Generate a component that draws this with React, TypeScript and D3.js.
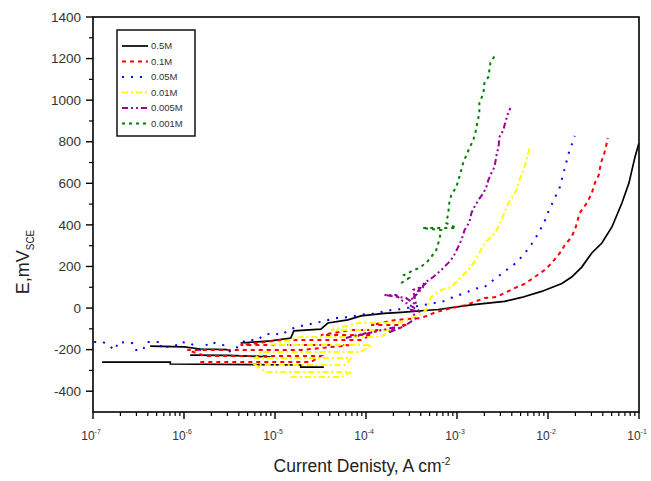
import React from 'react';
import * as d3 from 'd3';

type Pt = [number, number] | null;

// current density (A cm^-2), potential (mV vs SCE)
const xTickExponents = [-7, -6, -5, -4, -3, -2, -1];
const yTickValues = [-400, -200, 0, 200, 400, 600, 800, 1000, 1200, 1400];
const legendLabels = ['0.5M', '0.1M', '0.05M', '0.01M', '0.005M', '0.001M'];

const series05M: Pt[] = [
  [1.26e-7, -260], [7.07e-7, -260], [7.07e-7, -269], [1.92e-5, -274], [1.92e-5, -284], [3.44e-5, -284],
  null,
  [4.25e-7, -183], [1.0e-6, -187], [1.51e-6, -197], [3.0e-6, -200],
  null,
  [1.17e-6, -226], [3.0e-6, -228], [8.95e-6, -235],
  null,
  [4.18e-6, -168], [8.95e-6, -158],
  [1.49e-5, -144], [1.61e-5, -110], [3.19e-5, -101], [3.81e-5, -72], [6.32e-5, -57], [8.81e-5, -38],
  [1.58e-4, -26], [2.43e-4, -21], [6.22e-4, -7], [1.44e-3, 15], [3.33e-3, 32], [5.12e-3, 51],
  [8.51e-3, 80], [1.42e-2, 118], [1.82e-2, 149], [2.35e-2, 197], [3.03e-2, 265], [3.91e-2, 313],
  [5.04e-2, 390], [6.49e-2, 505], [7.75e-2, 601], [9.04e-2, 727], [1.0e-1, 794],
];

const series01M: Pt[] = [
  [1.51e-6, -260], [2.47e-5, -260], [3.19e-5, -231], [1.72e-6, -231], [1.09e-6, -202], [1.92e-5, -202],
  [6.83e-5, -178], [4.18e-6, -178], [1.15e-5, -154], [8.81e-5, -154], [1.14e-4, -130], [3.19e-5, -130],
  [6.83e-5, -106], [2.14e-4, -106], [2.76e-4, -81], [1.14e-4, -81], [2.14e-4, -57], [4.04e-4, -48],
  [5.92e-4, -19], [9.84e-4, 5], [1.27e-3, 15], [2.0e-3, 48], [2.72e-3, 53], [3.33e-3, 72],
  [4.29e-3, 96], [5.52e-3, 116], [7.13e-3, 149], [9.18e-3, 183], [1.10e-2, 217], [1.35e-2, 265],
  [1.53e-2, 303], [1.82e-2, 342], [2.02e-2, 390], [2.23e-2, 457], [2.67e-2, 505], [3.03e-2, 553],
  [3.27e-2, 601], [3.62e-2, 640], [3.81e-2, 698], [4.11e-2, 736], [4.33e-2, 775], [4.55e-2, 818],
];

const series005M: Pt[] = [
  [1.03e-7, -163], [1.29e-7, -163], [1.75e-7, -202], [1.89e-7, -163], [2.69e-7, -168], [2.90e-7, -202],
  [3.56e-7, -202], [3.84e-7, -163], [5.77e-7, -163], [5.48e-7, -192], [8.44e-7, -178], [9.12e-7, -163],
  [1.17e-6, -168], [1.51e-6, -202], [1.95e-6, -163], [2.71e-6, -178], [3.24e-6, -211], [3.87e-6, -187],
  [4.75e-6, -154], [6.44e-6, -154], [7.50e-6, -130], [9.66e-6, -120], [1.15e-5, -130], [1.49e-5, -101],
  [1.92e-5, -86], [2.81e-5, -72], [4.67e-5, -48], [5.30e-5, -48], [1.0e-4, -29], [1.14e-4, -29],
  [2.04e-4, -7], [2.43e-4, -5], [7.06e-4, 32], [9.10e-4, 53], [1.06e-3, 63], [1.63e-3, 94],
  [2.0e-3, 101], [2.27e-3, 120], [3.50e-3, 183], [4.18e-3, 207], [5.38e-3, 255], [6.61e-3, 308],
  [7.89e-3, 361], [8.51e-3, 390], [9.66e-3, 438], [1.02e-2, 472], [1.12e-2, 505], [1.35e-2, 582],
  [1.69e-2, 746], [1.97e-2, 828],
];

const series001M: Pt[] = [
  [1.49e-5, -332], [5.30e-5, -332], [6.83e-5, -308], [7.89e-6, -308], [6.12e-6, -274], [6.01e-5, -274],
  [6.83e-5, -240], [6.12e-6, -240], [6.95e-6, -211], [8.81e-5, -211], [1.14e-4, -178], [8.95e-6, -178],
  [1.92e-5, -139], [1.46e-4, -139], [1.89e-4, -106], [4.11e-5, -106], [8.16e-5, -72], [1.58e-4, -72],
  [2.43e-4, -67], [3.13e-4, -48],
  [3.84e-4, -33], [4.59e-4, -9], [4.83e-4, 24], [5.21e-4, 53], [6.71e-4, 87], [8.65e-4, 101],
  [1.03e-3, 135], [1.33e-3, 183], [1.55e-3, 222], [1.76e-3, 265], [2.0e-3, 313], [2.39e-3, 342],
  [2.72e-3, 375], [3.08e-3, 424], [3.33e-3, 462], [3.68e-3, 505], [4.07e-3, 534], [4.51e-3, 568],
  [4.86e-3, 616], [5.38e-3, 664], [5.82e-3, 712], [6.28e-3, 770],
];

const series0005M: Pt[] = [
  [6.01e-5, -144], [1.0e-4, -120], [8.16e-5, -134], [1.46e-4, -106], [1.22e-4, -115], [2.14e-4, -91],
  [1.75e-4, -120], [2.76e-4, -81], [3.56e-4, -48], [3.13e-4, -9], [4.04e-4, -19], [2.43e-4, 39],
  [2.14e-4, 63], [1.58e-4, 63], [2.76e-4, 48], [3.56e-4, 15], [3.30e-4, 87], [4.04e-4, 101],
  [4.59e-4, 120], [3.74e-4, 72], [3.13e-4, 39], [4.36e-4, 120], [5.48e-4, 149], [6.71e-4, 183],
  [8.02e-4, 217], [9.10e-4, 246], [1.03e-3, 294], [1.12e-3, 327], [1.21e-3, 375], [1.37e-3, 414],
  [1.44e-3, 457], [1.55e-3, 486], [1.72e-3, 520], [1.95e-3, 553], [2.10e-3, 582], [2.21e-3, 616],
  [2.39e-3, 650], [2.58e-3, 678], [2.72e-3, 736], [2.86e-3, 775], [2.93e-3, 823], [3.24e-3, 856],
  [3.33e-3, 880], [3.68e-3, 943], [3.87e-3, 962],
];

const series0001M: Pt[] = [
  [2.43e-4, 120], [2.98e-4, 145], [2.62e-4, 159], [3.38e-4, 183], [3.84e-4, 193], [4.59e-4, 217],
  [5.21e-4, 246], [5.92e-4, 279], [6.38e-4, 327], [6.71e-4, 375], [4.14e-4, 385], [9.84e-4, 385],
  [7.62e-4, 409], [8.02e-4, 457], [8.22e-4, 505], [8.65e-4, 544], [9.84e-4, 582], [1.06e-3, 630],
  [1.17e-3, 698], [1.27e-3, 736], [1.37e-3, 770], [1.51e-3, 808], [1.59e-3, 842], [1.67e-3, 890],
  [1.76e-3, 938], [1.76e-3, 986], [1.95e-3, 1034], [2.0e-3, 1082], [2.21e-3, 1111], [2.33e-3, 1179],
  [2.58e-3, 1212],
];

const seriesData = [series05M, series01M, series005M, series001M, series0005M, series0001M];

const seriesStyles = [
  { color: '#000000', dash: 'none', width: 1.7 },
  { color: '#ff0000', dash: '4,4', width: 2 },
  { color: '#0000ff', dash: '2,7', width: 2 },
  { color: '#ffff00', dash: '6,3,2,3', width: 2 },
  { color: '#990099', dash: '6,3,2,3,2,3', width: 2 },
  { color: '#008000', dash: '3,4', width: 2 },
];

const W = 651;
const H = 481;
const L = 93;
const R = 639;
const T = 17;
const B = 412;
const FONT = 'Liberation Sans, Arial, sans-serif';

export default function App() {
  const x = d3.scaleLog().domain([1e-7, 1e-1]).range([L, R]);
  const y = d3.scaleLinear().domain([-500, 1400]).range([B, T]);
  const line = d3
    .line<Pt>()
    .defined((d) => d !== null)
    .x((d) => x((d as [number, number])[0]))
    .y((d) => y((d as [number, number])[1]));

  const yMinor = d3.range(-300, 1400, 200);
  const xMajor = xTickExponents.map((e) => Math.pow(10, e));
  const xMinor: number[] = [];
  xTickExponents.slice(0, -1).forEach((e) => {
    for (let m = 2; m <= 9; m++) xMinor.push(m * Math.pow(10, e));
  });

  return (
    <svg width={W} height={H} style={{ position: 'absolute', left: 0, top: 0, background: '#fff' }} fontFamily={FONT}>
      <defs>
        <clipPath id="plot">
          <rect x={L} y={T} width={R - L} height={B - T} />
        </clipPath>
      </defs>
      <rect x={0} y={0} width={W} height={H} fill="#fff" />
      <g clipPath="url(#plot)">
        {seriesData.map((s, i) => (
          <path
            key={i}
            d={line(s) || ''}
            fill="none"
            stroke={seriesStyles[i].color}
            strokeWidth={seriesStyles[i].width}
            strokeDasharray={seriesStyles[i].dash}
            strokeLinejoin="miter"
          />
        ))}
      </g>
      {/* frame */}
      <rect x={L} y={T} width={R - L} height={B - T} fill="none" stroke="#000" strokeWidth={1.6} />
      {/* y ticks */}
      {yTickValues.map((v) => (
        <g key={'y' + v}>
          <line x1={L - 7} x2={L} y1={y(v)} y2={y(v)} stroke="#000" strokeWidth={1.4} />
          <text x={L - 12} y={y(v)} dy="0.35em" textAnchor="end" fontSize={13.5} fill="#333">
            {v}
          </text>
        </g>
      ))}
      {yMinor.map((v) => (
        <line key={'ym' + v} x1={L - 4} x2={L} y1={y(v)} y2={y(v)} stroke="#000" strokeWidth={1.2} />
      ))}
      {/* x ticks */}
      {xMajor.map((v, i) => (
        <g key={'x' + i}>
          <line x1={x(v)} x2={x(v)} y1={B} y2={B + 7} stroke="#000" strokeWidth={1.4} />
          <text x={x(v) - 2} y={B + 28} textAnchor="middle" fontSize={12} fill="#333">
            10
            <tspan dy={-6} fontSize={7}>{xTickExponents[i]}</tspan>
          </text>
        </g>
      ))}
      {xMinor.map((v, i) => (
        <line key={'xm' + i} x1={x(v)} x2={x(v)} y1={B} y2={B + 4} stroke="#000" strokeWidth={1.2} />
      ))}
      {/* axis titles */}
      <text transform={`translate(29,262) rotate(-90)`} textAnchor="middle" fontSize={18} fill="#222">
        E,mV
        <tspan dy={5} fontSize={10}>SCE</tspan>
      </text>
      <text x={362} y={472} textAnchor="middle" fontSize={17.5} fill="#222">
        Current Denisty, A  cm
        <tspan dy={-7} fontSize={10}>-2</tspan>
      </text>
      {/* legend */}
      <rect x={117} y={30} width={78} height={106} fill="#fff" stroke="#000" strokeWidth={1.4} />
      {legendLabels.map((lab, i) => {
        const ly = 46 + i * 15.5;
        const st = seriesStyles[i];
        return (
          <g key={'lg' + i}>
            <line x1={122} x2={148} y1={ly} y2={ly} stroke={st.color} strokeWidth={st.width} strokeDasharray={st.dash} />
            <text x={151} y={ly} dy="0.35em" fontSize={9.5} fill="#333">
              {lab}
            </text>
          </g>
        );
      })}
    </svg>
  );
}
